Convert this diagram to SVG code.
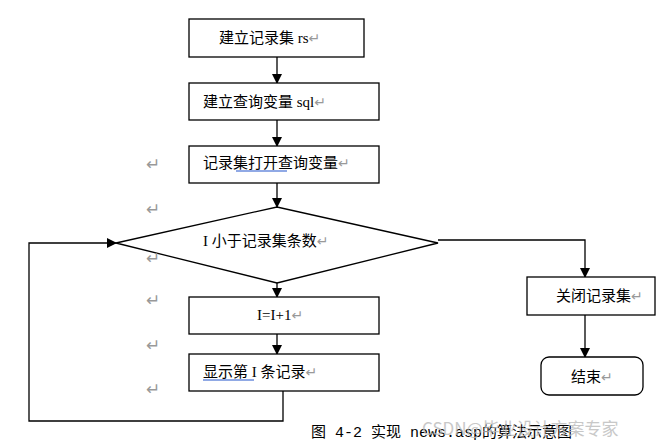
<svg xmlns="http://www.w3.org/2000/svg" width="672" height="447" viewBox="0 0 672 447">
<style>
.b{fill:#fff;stroke:#000;stroke-width:1.3}
.t{font-family:"Liberation Serif","Noto Sans CJK SC",serif;font-size:15px;fill:#000}
.m{fill:#999;font-family:"DejaVu Sans",sans-serif;font-size:14px}
.r{font-family:"DejaVu Sans",sans-serif;font-size:17px;fill:#999}
.c{stroke:#000;stroke-width:1.3;fill:none}
</style>
<defs><marker id="a" markerWidth="10" markerHeight="10" refX="9" refY="5" orient="auto" markerUnits="userSpaceOnUse"><path d="M0,0 L10,5 L0,10z" fill="#000"/></marker></defs>
<rect width="672" height="447" fill="#fff"/>
<g id="connectors">
<path class="c" d="M277,57 V83" marker-end="url(#a)"/>
<path class="c" d="M277,120 V146" marker-end="url(#a)"/>
<path class="c" d="M277,183 V207" marker-end="url(#a)"/>
<path class="c" d="M277,283 V297" marker-end="url(#a)"/>
<path class="c" d="M277,334 V354" marker-end="url(#a)"/>
<path class="c" d="M283,391 V421 H29 V243 H116" marker-end="url(#a)"/>
<path class="c" d="M438,240 H585 V277" marker-end="url(#a)"/>
<path class="c" d="M585,315 V357" marker-end="url(#a)"/>
</g>
<g id="n1"><rect class="b" x="189" y="19" width="175" height="38"/><text class="t" x="219" y="43">建立记录集 rs<tspan class="m">↵</tspan></text></g>
<g id="n2"><rect class="b" x="189" y="83" width="190" height="37"/><text class="t" x="203" y="107">建立查询变量 sql<tspan class="m">↵</tspan></text></g>
<g id="n3"><rect class="b" x="189" y="146" width="190" height="37"/><text class="t" x="203" y="168">记录集打开查询变量<tspan class="m">↵</tspan></text><path d="M236,171 H287" stroke="#2255cc" stroke-width="1.2"/></g>
<g id="n4"><polygon class="b" points="116,243 277,207 438,243 277,283"/><text class="t" x="203" y="246">I 小于记录集条数<tspan class="m">↵</tspan></text></g>
<g id="n5"><rect class="b" x="189" y="297" width="190" height="37"/><text class="t" x="257" y="320">I=I+1<tspan class="m">↵</tspan></text></g>
<g id="n6"><rect class="b" x="189" y="354" width="190" height="37"/><text class="t" x="203" y="377">显示第 I 条记录<tspan class="m">↵</tspan></text><path d="M203,380 H254" stroke="#2255cc" stroke-width="1.2"/></g>
<g id="n7"><rect class="b" x="527" y="277" width="128" height="38"/><text class="t" x="556" y="301">关闭记录集<tspan class="m">↵</tspan></text></g>
<g id="n8"><rect class="b" x="541" y="357" width="102" height="38" rx="8"/><text class="t" x="571" y="382">结束<tspan class="m">↵</tspan></text></g>
<g class="r"><text x="146" y="170">↵</text><text x="146" y="215">↵</text><text x="146" y="264">↵</text><text x="146" y="306">↵</text><text x="146" y="351">↵</text><text x="146" y="395">↵</text></g>
<text x="311" y="437" font-family="Liberation Mono,Noto Sans CJK SC,monospace" font-size="15" fill="#000">图 4-2 实现 news.asp的算法示意图</text>
<text x="422" y="435" font-family="Noto Sans CJK SC,sans-serif" font-size="17" fill="#bbb" opacity="0.8">CSDN@毕业设计方案专家</text>
</svg>
